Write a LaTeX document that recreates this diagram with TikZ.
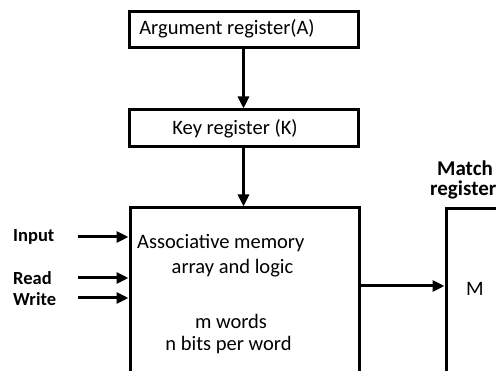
\documentclass[tikz,border=0pt]{standalone}
\usepackage{fontspec}
\setmainfont{Carlito}
\usetikzlibrary{arrows.meta}
\begin{document}
\begin{tikzpicture}[x=1pt,y=-1pt,
  box/.style={draw,line width=3pt,inner sep=0pt},
  arr/.style={line width=3pt,-{Triangle[length=12pt,width=11pt]}},
  txt/.style={font=\fontsize{20.5}{24}\selectfont,inner sep=0pt},
  lbl/.style={font=\fontsize{18.5}{22}\selectfont\bfseries,inner sep=0pt},
  mlbl/.style={font=\fontsize{21}{24}\selectfont\bfseries,inner sep=0pt}]
\clip (0,0) rectangle (496,371);
\useasboundingbox (0,0) rectangle (496,371);
\node[box,minimum width=229pt,minimum height=36pt] (arg) at (243.5,30) {};
\node[txt] (argt) at (227,29) {Argument register(A)};
\node[box,minimum width=229pt,minimum height=37pt] (key) at (243.5,128.5) {};
\node[txt] (keyt) at (235,129) {Key register (K)};
\node[box,minimum width=229pt,minimum height=200pt] (mem) at (244.5,308) {};
\node[txt,anchor=west] (t1) at (137,243) {Associative memory};
\node[txt] (t2) at (232.5,268) {array and logic};
\node[txt] (t3) at (231,321) {m words};
\node[txt] (t4) at (228.5,345) {n bits per word};
\node[box,minimum width=114pt,minimum height=200pt] (mb) at (503,309) {};
\node[txt] (mt) at (475,289) {M};
\node[mlbl] (match) at (465,168) {Match};
\node[mlbl,anchor=west] (regl) at (430,190) {register};
\node[lbl,anchor=west] (inl) at (13,237) {Input};
\node[lbl,anchor=west] (rdl) at (13,278) {Read};
\node[lbl,anchor=west] (wrl) at (13,299) {Write};
\coordinate (ci) at (78,237);
\coordinate (cr) at (78,278);
\coordinate (cw) at (78,298);
\coordinate (co) at (359,286);
\draw[arr] (arg.south) -- (key.north);
\draw[arr] (key.south) -- (key.south |- mem.north);
\draw[arr] (ci) -- (ci -| mem.west);
\draw[arr] (cr) -- (cr -| mem.west);
\draw[arr] (cw) -- (cw -| mem.west);
\draw[arr] (co -| mem.east) -- (co -| mb.west);
\end{tikzpicture}
\end{document}
